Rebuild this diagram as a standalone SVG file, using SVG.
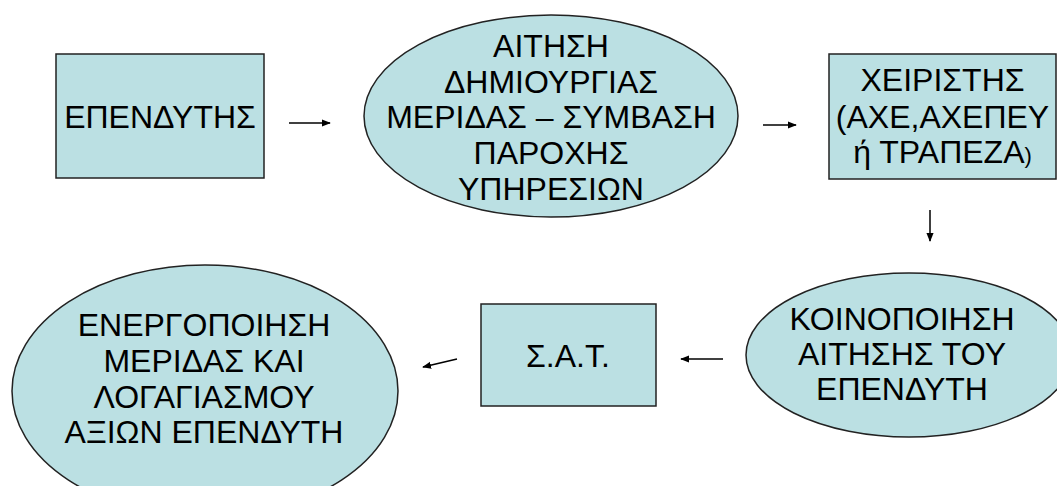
<svg xmlns="http://www.w3.org/2000/svg" width="1057" height="486" viewBox="0 0 1057 486">
<defs>
<style>
.n{fill:#BBE0E3;stroke:#222;stroke-width:1.5}
.t{font-family:"Liberation Sans",Arial,sans-serif;font-size:32px;fill:#000;text-anchor:middle}
.c{stroke:#000;stroke-width:1.5;fill:none;marker-end:url(#ah)}
</style>
<marker id="ah" viewBox="0 0 10 10" refX="9" refY="5" markerWidth="6" markerHeight="6" markerUnits="strokeWidth" orient="auto">
<path d="M0,1 L10,5 L0,9 z" fill="#000"/>
</marker>
</defs>
<rect width="1057" height="486" fill="#fff"/>
<g id="connectors">
<line class="c" x1="289" y1="123" x2="330" y2="123"/>
<line class="c" x1="763" y1="125" x2="796" y2="125"/>
<line class="c" x1="930" y1="210" x2="930" y2="241"/>
<line class="c" x1="723" y1="359" x2="681" y2="359"/>
<line class="c" x1="457" y1="359" x2="423" y2="367"/>
</g>
<g id="investor">
<rect class="n" x="56" y="54" width="208" height="124"/>
<text class="t" x="160" y="128">ΕΠΕΝΔΥΤΗΣ</text>
</g>
<g id="application">
<ellipse class="n" cx="551" cy="116" rx="187" ry="101"/>
<text class="t" x="551" y="57">ΑΙΤΗΣΗ</text>
<text class="t" x="551" y="93">ΔΗΜΙΟΥΡΓΙΑΣ</text>
<text class="t" x="551" y="128">ΜΕΡΙΔΑΣ – ΣΥΜΒΑΣΗ</text>
<text class="t" x="551" y="164">ΠΑΡΟΧΗΣ</text>
<text class="t" x="551" y="200">ΥΠΗΡΕΣΙΩΝ</text>
</g>
<g id="operator">
<rect class="n" x="829" y="54" width="227" height="125"/>
<text class="t" x="942.5" y="91">ΧΕΙΡΙΣΤΗΣ</text>
<text class="t" x="942.5" y="128">(ΑΧΕ,ΑΧΕΠΕΥ</text>
<text class="t" x="942.5" y="163">ή ΤΡΑΠΕΖΑ<tspan font-size="22">)</tspan></text>
</g>
<g id="notification">
<ellipse class="n" cx="909" cy="355" rx="163" ry="82"/>
<text class="t" x="902" y="330">ΚΟΙΝΟΠΟΙΗΣΗ</text>
<text class="t" x="902" y="365">ΑΙΤΗΣΗΣ ΤΟΥ</text>
<text class="t" x="902" y="400">ΕΠΕΝΔΥΤΗ</text>
</g>
<g id="sat">
<rect class="n" x="481" y="304" width="175" height="102"/>
<text class="t" x="568" y="367">Σ.Α.Τ.</text>
</g>
<g id="activation">
<ellipse class="n" cx="205" cy="391" rx="193" ry="126"/>
<text class="t" x="204" y="336">ΕΝΕΡΓΟΠΟΙΗΣΗ</text>
<text class="t" x="204" y="372">ΜΕΡΙΔΑΣ ΚΑΙ</text>
<text class="t" x="204" y="408">ΛΟΓΑΓΙΑΣΜΟΥ</text>
<text class="t" x="204" y="443">ΑΞΙΩΝ ΕΠΕΝΔΥΤΗ</text>
</g>
</svg>
